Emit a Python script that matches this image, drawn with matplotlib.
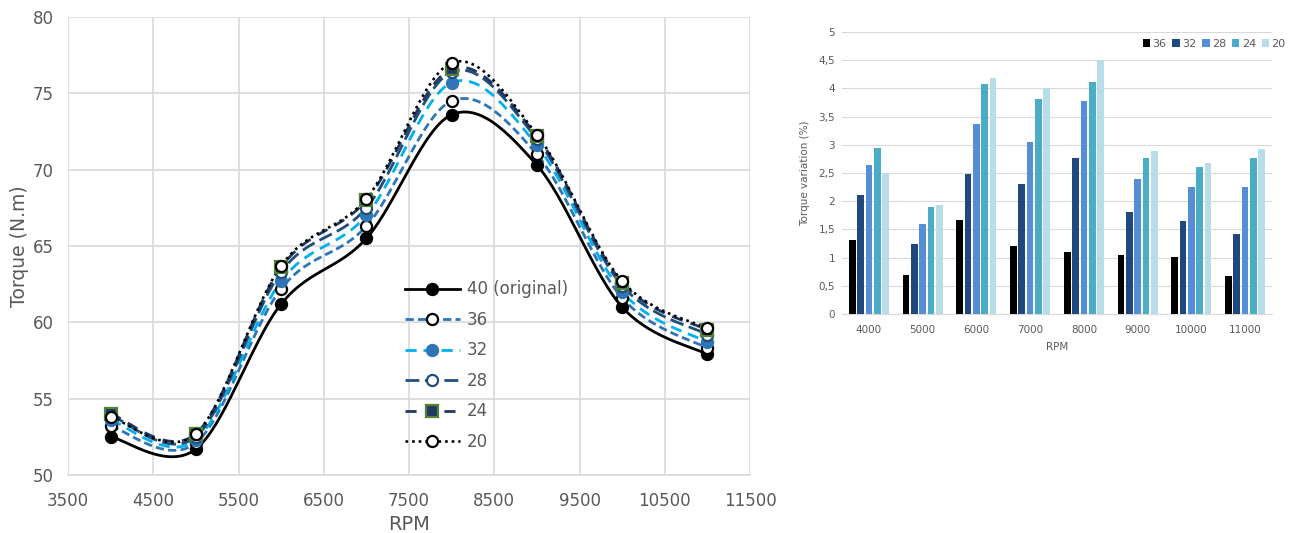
import numpy as np
import matplotlib
matplotlib.use("Agg")
import matplotlib.pyplot as plt
from matplotlib.lines import Line2D

# Left chart: torque curves
rpm = [4000, 5000, 6000, 7000, 8000, 9000, 10000, 11000]
torque_40 = [52.5, 51.7, 61.2, 65.5, 73.6, 70.3, 61.0, 57.9]
torque_36 = [53.2, 52.1, 62.2, 66.3, 74.5, 71.0, 61.6, 58.3]
torque_32 = [53.6, 52.3, 62.7, 67.0, 75.7, 71.6, 62.0, 58.7]
torque_28 = [53.9, 52.5, 63.3, 67.5, 76.4, 72.0, 62.4, 59.2]
torque_24 = [54.0, 52.7, 63.6, 68.0, 76.6, 72.2, 62.6, 59.5]
torque_20 = [53.8, 52.7, 63.7, 68.1, 77.0, 72.3, 62.7, 59.6]

# Right chart: torque variation (%)
bar_cats = ["4000", "5000", "6000", "7000", "8000", "9000", "10000", "11000"]
var_36 = [1.31, 0.70, 1.67, 1.20, 1.10, 1.05, 1.01, 0.67]
var_32 = [2.11, 1.25, 2.49, 2.30, 2.76, 1.81, 1.65, 1.42]
var_28 = [2.65, 1.60, 3.37, 3.05, 3.78, 2.40, 2.26, 2.25]
var_24 = [2.94, 1.90, 4.08, 3.81, 4.12, 2.77, 2.60, 2.77]
var_20 = [2.50, 1.94, 4.18, 4.01, 4.50, 2.89, 2.67, 2.93]

GRAY = "#595959"
GRID = "#d9d9d9"


def smooth(x, y, n=30):
    # Excel-style smoothed line: cubic Bezier with Catmull-Rom control points
    x = np.asarray(x, float)
    y = np.asarray(y, float)
    pts = np.column_stack([x, y])
    ext = np.vstack([pts[0], pts, pts[-1]])
    out = []
    t = np.linspace(0, 1, n)[:, None]
    for i in range(len(pts) - 1):
        p0, p1, p2, p3 = ext[i], ext[i + 1], ext[i + 2], ext[i + 3]
        c1 = p1 + (p2 - p0) / 6.0
        c2 = p2 - (p3 - p1) / 6.0
        seg = ((1 - t) ** 3) * p1 + 3 * ((1 - t) ** 2) * t * c1 + 3 * (1 - t) * t ** 2 * c2 + t ** 3 * p2
        out.append(seg if i == 0 else seg[1:])
    seg = np.vstack(out)
    return seg[:, 0], seg[:, 1]


fig = plt.figure(figsize=(12.97, 5.33), dpi=100)
ax = fig.add_axes([68 / 1297, 1 - 475 / 533, 682 / 1297, 458 / 533])

series = [
    ("40 (original)", torque_40, dict(color="black", ls="-", lw=2.0),
     dict(marker="o", mfc="black", mec="black", ms=8)),
    ("36", torque_36, dict(color="#2e75b6", ls=(0, (3, 1.5)), lw=2.0),
     dict(marker="o", mfc="white", mec="black", ms=8)),
    ("32", torque_32, dict(color="#00b0f0", ls=(0, (4, 2.5)), lw=2.0),
     dict(marker="o", mfc="#2e75b6", mec="#2e75b6", ms=8)),
    ("28", torque_28, dict(color="#1f4e79", ls=(0, (5, 2)), lw=2.0),
     dict(marker="o", mfc="white", mec="#1f4e79", ms=8)),
    ("24", torque_24, dict(color="#203864", ls=(0, (4, 3)), lw=2.0),
     dict(marker="s", mfc="#203864", mec="#548235", ms=8)),
    ("20", torque_20, dict(color="black", ls=(0, (1, 1.5)), lw=1.9),
     dict(marker="o", mfc="white", mec="black", ms=8)),
]

handles = []
for label, vals, lstyle, mstyle in series:
    sx, sy = smooth(rpm, vals)
    ax.plot(sx, sy, zorder=3, **lstyle)
    ax.plot(rpm, vals, ls="none", zorder=4, mew=1.6, **mstyle)
    handles.append(Line2D([], [], mew=1.6, **lstyle, **mstyle))

ax.set_xlim(3500, 11500)
ax.set_ylim(50, 80)
ax.set_xticks(np.arange(3500, 11501, 1000))
ax.set_yticks(np.arange(50, 81, 5))
ax.grid(True, color=GRID, lw=1.2)
ax.set_axisbelow(True)
for s in ["top", "right", "left"]:
    ax.spines[s].set_visible(False)
ax.spines["bottom"].set_color(GRID)
ax.spines["bottom"].set_linewidth(1.2)
ax.tick_params(length=0, labelsize=12, colors=GRAY)
ax.tick_params(axis="x", pad=12)
ax.tick_params(axis="y", pad=10)
ax.set_xlabel("RPM", fontsize=14, color=GRAY, labelpad=4)
ax.set_ylabel("Torque (N.m)", fontsize=13.5, color=GRAY, labelpad=3)
leg = ax.legend(handles, [s[0] for s in series], loc="lower left",
                bbox_to_anchor=(0.472, 0.02), frameon=False, fontsize=12,
                handlelength=3.3, labelspacing=0.75, handletextpad=0.4)
for t in leg.get_texts():
    t.set_color(GRAY)

# Right chart: bars
ax2 = fig.add_axes([842 / 1297, 1 - 314 / 533, 430 / 1297, 282 / 533])
bar_series = [("36", var_36, "#000000"), ("32", var_32, "#1f497d"),
              ("28", var_28, "#558ed5"), ("24", var_24, "#4bacc6"),
              ("20", var_20, "#b7dee8")]
xpos = np.arange(len(bar_cats))
step = 0.155
for i, (label, vals, col) in enumerate(bar_series):
    ax2.bar(xpos + (i - 2) * step, vals, width=0.125, color=col, label=label, zorder=3)
ax2.set_xlim(-0.5, len(bar_cats) - 0.5)
ax2.set_ylim(0, 5)
ax2.set_yticks(np.arange(0, 5.01, 0.5))
ax2.set_yticklabels([f"{v:g}".replace(".", ",") for v in np.arange(0, 5.01, 0.5)])
ax2.set_xticks(xpos)
ax2.set_xticklabels(bar_cats)
ax2.grid(True, axis="y", color=GRID, lw=0.8)
ax2.set_axisbelow(True)
for s in ["top", "right", "left"]:
    ax2.spines[s].set_visible(False)
ax2.spines["bottom"].set_color(GRID)
ax2.tick_params(length=0, labelsize=7.5, colors=GRAY, pad=5)
ax2.tick_params(axis="x", pad=8)
ax2.set_xlabel("RPM", fontsize=7.5, color=GRAY, labelpad=5)
ax2.set_ylabel("Torque variation (%)", fontsize=7.5, color=GRAY, labelpad=6)
leg2 = ax2.legend(loc="upper right", bbox_to_anchor=(1.055, 1.01), ncol=5,
                  frameon=False, fontsize=8, handlelength=0.7, handleheight=0.7,
                  columnspacing=0.5, handletextpad=0.2)
for t in leg2.get_texts():
    t.set_color(GRAY)

fig.savefig("out.png", dpi=100)
